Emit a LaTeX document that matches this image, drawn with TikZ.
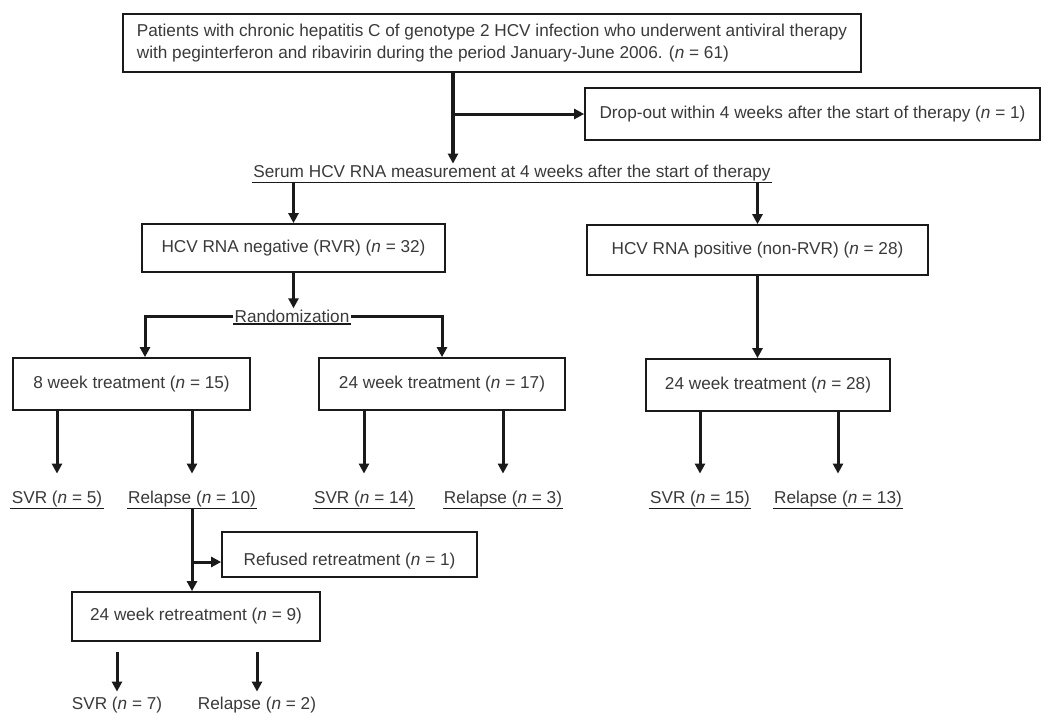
\documentclass[tikz,border=0pt]{standalone}
\usepackage{fontspec}
\setmainfont{Liberation Sans}
\usetikzlibrary{arrows.meta}
\definecolor{linec}{HTML}{1A1A1A}
\definecolor{textc}{HTML}{3A3A3A}
\begin{document}
\begin{tikzpicture}[x=1pt,y=-1pt,
  font=\fontsize{17.2}{22}\selectfont,
  box/.style={draw=linec, line width=1.7pt, inner sep=0pt, text=textc},
  lbl/.style={inner sep=1.2pt, text=textc},
  ul/.style={append after command={(\tikzlastnode.south west) edge[draw=linec, line width=1.8pt] (\tikzlastnode.south east)}},
  arr/.style={draw=linec, line width=3pt, -{Triangle[width=10pt,length=10pt]}}]
\useasboundingbox[fill=white] (0,0) rectangle (1045,715);

\node[box, minimum height=58pt, align=left, inner xsep=14pt, anchor=west] (top) at (122,43)
  {Patients with chronic hepatitis C of genotype 2 HCV infection who underwent antiviral therapy\\
   with peginterferon and ribavirin during the period January-June 2006. (\textit{n} = 61)};
\node[box, minimum width=455pt, minimum height=52pt] (drop) at (812.5,114)
  {Drop-out within 4 weeks after the start of therapy (\textit{n} = 1)};
\node[lbl, ul] (serum) at (512,173) {Serum HCV RNA measurement at 4 weeks after the start of therapy};
\node[box, minimum width=303pt, minimum height=48pt] (neg) at (293.5,248) {HCV RNA negative (RVR) (\textit{n} = 32)};
\node[box, minimum width=341pt, minimum height=50pt] (pos) at (757.5,250) {HCV RNA positive (non-RVR) (\textit{n} = 28)};
\node[lbl, ul] (rand) at (292,316) {Randomization};
\node[box, minimum width=237pt, minimum height=52pt] (w8) at (131.5,384) {8 week treatment (\textit{n} = 15)};
\node[box, minimum width=246pt, minimum height=52pt] (w24a) at (442,384) {24 week treatment (\textit{n} = 17)};
\node[box, minimum width=244pt, minimum height=52pt] (w24b) at (768,385) {24 week treatment (\textit{n} = 28)};

\node[lbl, ul] (svr5) at (57,499) {SVR (\textit{n} = 5)};
\node[lbl, ul] (rel10) at (192,499) {Relapse (\textit{n} = 10)};
\node[lbl, ul] (svr14) at (364,499) {SVR (\textit{n} = 14)};
\node[lbl, ul] (rel3) at (503,499) {Relapse (\textit{n} = 3)};
\node[lbl, ul] (svr15) at (700,499) {SVR (\textit{n} = 15)};
\node[lbl, ul] (rel13) at (838,499) {Relapse (\textit{n} = 13)};

\node[box, minimum width=255pt, minimum height=45pt] (refused) at (349.5,554.5) {\rule{0pt}{26pt}Refused retreatment (\textit{n} = 1)};
\node[box, minimum width=248pt, minimum height=49pt] (retreat) at (196,616.5) {24 week retreatment (\textit{n} = 9)};
\node[lbl] (svr7) at (117,705) {SVR (\textit{n} = 7)};
\node[lbl] (rel2) at (257,705) {Relapse (\textit{n} = 2)};

% connectors
\coordinate (topout) at (453,72);
\coordinate (br) at (453,114);
\coordinate (l8) at (145,316);
\coordinate (y562) at (0,562);
\coordinate (rs) at (0,652);

\draw[arr, line width=3.6pt] (topout) -- (topout |- serum.north);
\draw[arr] (br) -- (drop.west);
\draw[arr] (serum.south -| neg.north) -- (neg.north);
\draw[arr] (serum.south -| pos.north) -- (pos.north);
\draw[arr] (neg.south) -- (neg.south |- rand.north);
\draw[arr] (rand.west) -- (l8) -- (l8 |- w8.north);
\draw[arr] (rand.east) -- (rand.east -| w24a.north) -- (w24a.north);
\draw[arr] (pos.south) -- (pos.south |- w24b.north);

\draw[arr, shorten >=16pt] (svr5.north |- w8.south) -- (svr5.north);
\draw[arr, shorten >=16pt] (rel10.north |- w8.south) -- (rel10.north);
\draw[arr, shorten >=16pt] (svr14.north |- w24a.south) -- (svr14.north);
\draw[arr, shorten >=16pt] (rel3.north |- w24a.south) -- (rel3.north);
\draw[arr, shorten >=16pt] (svr15.north |- w24b.south) -- (svr15.north);
\draw[arr, shorten >=16pt] (rel13.north |- w24b.south) -- (rel13.north);

\draw[arr] (rel10.south) -- (rel10.south |- retreat.north);
\draw[arr] (rel10.south |- y562) -- (refused.west |- y562);
\draw[arr, shorten >=4pt] (svr7.north |- rs) -- (svr7.north);
\draw[arr, shorten >=4pt] (rel2.north |- rs) -- (rel2.north);
\end{tikzpicture}
\end{document}
